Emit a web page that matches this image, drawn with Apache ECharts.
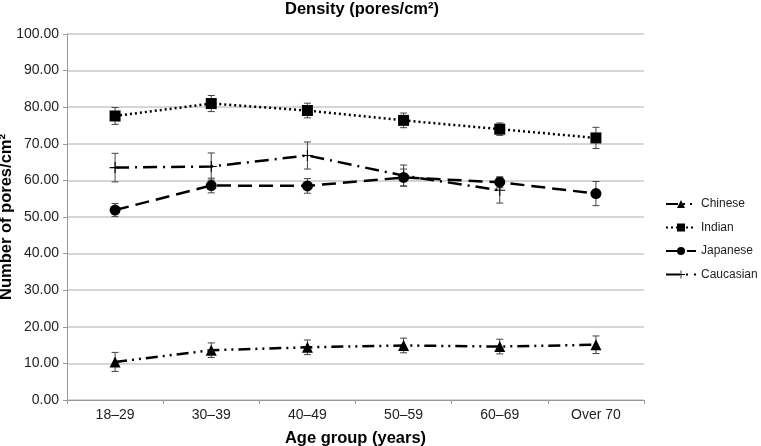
<!DOCTYPE html>
<html><head><meta charset="utf-8">
<script src="https://cdn.jsdelivr.net/npm/echarts@6/dist/echarts.min.js"></script>
<style>html,body{margin:0;padding:0;background:#fff}#c{width:761px;height:446px}</style>
</head><body><div id="c"></div>
<script>
const categories = ['18–29','30–39','40–49','50–59','60–69','Over 70'];
const yTicks = [0,10,20,30,40,50,60,70,80,90,100];
const chinese = [10.4, 13.6, 14.4, 14.9, 14.6, 15.1];
const chineseErr = [2.6, 2.0, 2.0, 2.0, 2.0, 2.4];
const indian = [77.6, 81.0, 79.1, 76.4, 74.0, 71.6];
const indianErr = [2.3, 2.2, 2.0, 2.0, 1.7, 2.9];
const japanese = [51.9, 58.6, 58.5, 60.8, 59.5, 56.4];
const japaneseErr = [1.8, 2.0, 2.0, 2.3, 1.5, 3.3];
const caucasian = [63.5, 63.8, 66.8, 61.3, 57.3, null];
const caucasianErr = [3.9, 3.7, 3.7, 2.9, 3.5, null];

const font = 'Liberation Sans, Arial, sans-serif';
const plus = 'path://M4.5,0 L5.5,0 L5.5,4.5 L10,4.5 L10,5.5 L5.5,5.5 L5.5,10 L4.5,10 L4.5,5.5 L0,5.5 L0,4.5 L4.5,4.5 Z';

function errSeries(vals, errs){
  const data = [];
  vals.forEach((v,i)=>{ if(v!=null) data.push([i, v-errs[i], v+errs[i]]); });
  return {
    type:'custom', silent:true, z:1,
    data: data,
    encode:{x:0, y:[1,2]},
    renderItem:function(params, api){
      const x = api.value(0);
      const lo = api.coord([x, api.value(1)]);
      const hi = api.coord([x, api.value(2)]);
      const w = 3.5;
      const st = {stroke:'#444', lineWidth:1};
      return {type:'group', children:[
        {type:'line', shape:{x1:lo[0],y1:lo[1],x2:hi[0],y2:hi[1]}, style:st},
        {type:'line', shape:{x1:lo[0]-w,y1:lo[1],x2:lo[0]+w,y2:lo[1]}, style:st},
        {type:'line', shape:{x1:hi[0]-w,y1:hi[1],x2:hi[0]+w,y2:hi[1]}, style:st}
      ]};
    }
  };
}

function lineSeries(name, vals, symbol, size, dash){
  return {
    name:name, type:'line', data:vals, z:3,
    symbol:symbol, symbolSize:size, showSymbol:true,
    itemStyle:{color:'#000'},
    lineStyle:{color:'#000', width:2.5, type:dash},
    connectNulls:false, animation:false
  };
}

const chart = echarts.init(document.getElementById('c'));
chart.setOption({
  animation:false,
  backgroundColor:'#fff',
  title:{text:'Density (pores/cm²)', left:357, top:-4, textAlign:'center',
    textStyle:{fontFamily:font, fontSize:16.5, fontWeight:'bold', color:'#000'}},
  grid:{left:67, right:117, top:34, bottom:46, outerBoundsMode:'none', containLabel:false},
  legend:{
    orient:'vertical', left:660, top:193, itemGap:11.5, itemWidth:30, itemHeight:10,
    data:['Chinese','Indian','Japanese','Caucasian'],
    textStyle:{fontFamily:font, fontSize:12, color:'#222'}
  },
  xAxis:{
    type:'category', data:categories, boundaryGap:true,
    name:'Age group (years)', nameLocation:'middle', nameGap:30,
    nameTextStyle:{fontFamily:font, fontSize:16.5, fontWeight:'bold', color:'#000'},
    axisLine:{lineStyle:{color:'#999'}},
    axisTick:{show:true, alignWithLabel:false, lineStyle:{color:'#999'}, length:4},
    axisLabel:{fontFamily:font, fontSize:14, color:'#222', margin:8}
  },
  yAxis:{
    type:'value', min:yTicks[0], max:yTicks[yTicks.length-1], interval:yTicks[1]-yTicks[0],
    name:'Number of pores/cm²', nameLocation:'middle', nameGap:52, nameMoveOverlap:false,
    nameTextStyle:{fontFamily:font, fontSize:16.5, fontWeight:'bold', color:'#000'},
    axisLine:{show:true, lineStyle:{color:'#999'}},
    axisTick:{show:true, length:4, lineStyle:{color:'#999'}},
    axisLabel:{fontFamily:font, fontSize:14, color:'#222', margin:8, formatter:v=>v.toFixed(2)},
    splitLine:{lineStyle:{color:'#c8c8c8', width:1.5}}
  },
  series:[
    errSeries(chinese, chineseErr),
    errSeries(indian, indianErr),
    errSeries(japanese, japaneseErr),
    errSeries(caucasian, caucasianErr),
    lineSeries('Chinese', chinese, 'triangle', 11, [12,5,2,5,2,5]),
    lineSeries('Indian', indian, 'rect', 11, [2,3]),
    lineSeries('Japanese', japanese, 'circle', 11, [14,7]),
    lineSeries('Caucasian', caucasian, plus, 11, [14,6,2,6])
  ]
});
</script></body></html>
